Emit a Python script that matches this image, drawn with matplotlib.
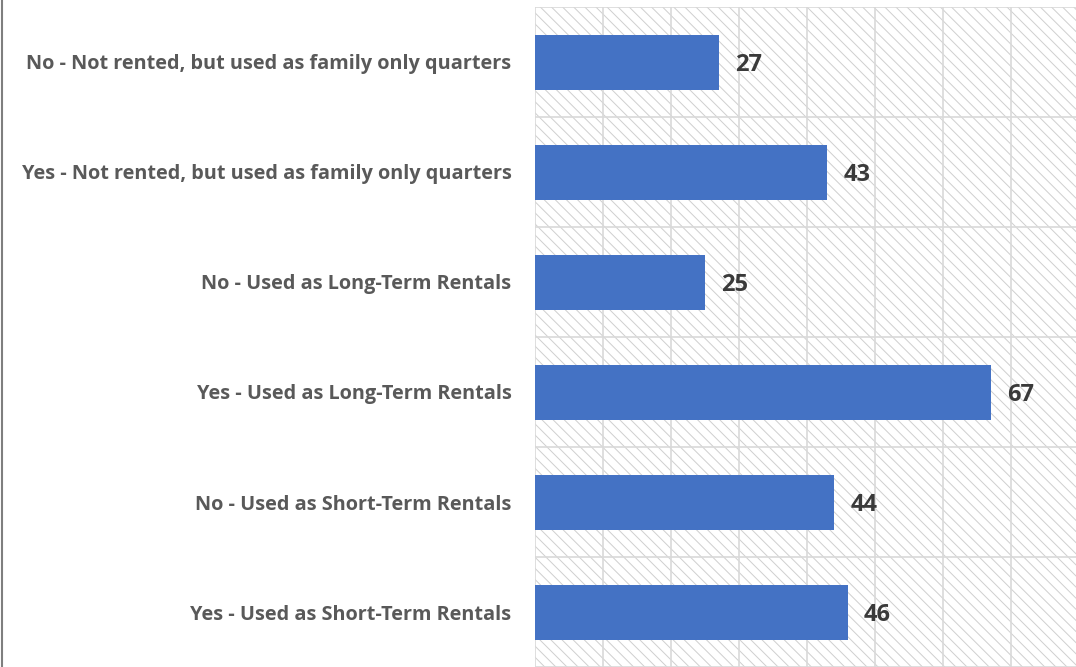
import matplotlib.pyplot as plt
from matplotlib.patches import Rectangle
from matplotlib.lines import Line2D

categories = [
    "No - Not rented, but used as family only quarters",
    "Yes - Not rented, but used as family only quarters",
    "No - Used as Long-Term Rentals",
    "Yes - Used as Long-Term Rentals",
    "No - Used as Short-Term Rentals",
    "Yes - Used as Short-Term Rentals",
]
values = [27, 43, 25, 67, 44, 46]

plt.rcParams["font.family"] = ["Open Sans", "DejaVu Sans"]
plt.rcParams["hatch.linewidth"] = 0.7

fig = plt.figure(figsize=(10.76, 6.67), dpi=100)
ax = fig.add_axes([535 / 1076, 0.0, 1 - 535 / 1076, 1 - 7 / 667])

# top category first
cats = categories[::-1]
vals = values[::-1]
ypos = list(range(len(cats)))

# hatched background
bg = Rectangle((0, 0), 1, 1, transform=ax.transAxes, facecolor="white",
               edgecolor="#cfcfcf", linewidth=0, hatch="\\\\\\", zorder=0)
ax.add_patch(bg)

ax.barh(ypos, vals, height=0.5, color="#4472C4", zorder=3)

for y, v in zip(ypos, vals):
    ax.text(v + 2.4, y, str(v), va="center_baseline", ha="left", fontsize=17,
            fontweight="bold", color="#3a3a3a", zorder=4)

ax.set_xlim(0, 541 / 6.8)
ax.set_ylim(-0.5, len(cats) - 0.5)
ax.set_xticks(range(0, 80, 10))
ax.set_yticks(ypos)
ax.set_yticklabels(cats, fontsize=14.3, fontweight="bold", color="#595959")
ax.set_yticks([y - 0.5 for y in range(len(cats) + 1)], minor=True)
ax.tick_params(axis="y", which="both", length=0, pad=17)
ax.tick_params(axis="x", length=0, labelbottom=False)
ax.grid(axis="x", color="#d9d9d9", linewidth=1.2, zorder=1)
ax.grid(axis="y", which="minor", color="#d9d9d9", linewidth=1.2, zorder=1)
ax.grid(axis="y", which="major", visible=False)
ax.set_axisbelow(True)
for s in ax.spines.values():
    s.set_visible(False)

fig.add_artist(Line2D([0.0015, 0.0015], [0, 1], color="#7f7f7f", linewidth=1.5,
                      transform=fig.transFigure))

fig.savefig("out.png", dpi=100)
